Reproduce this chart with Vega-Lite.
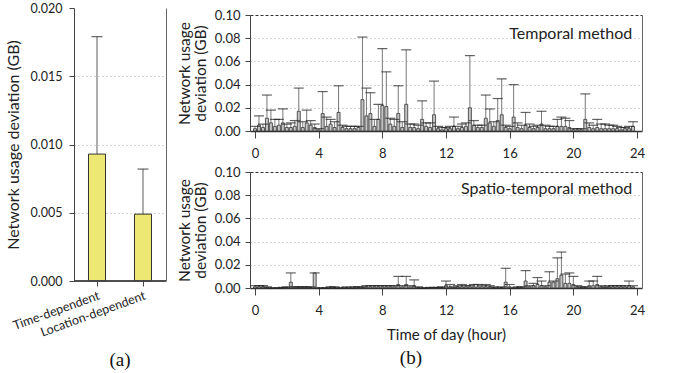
{
  "$schema": "https://vega.github.io/schema/vega-lite/v6.json",
  "background": "white",
  "padding": {"left": 5, "top": 2, "right": 4, "bottom": 2},
  "config": {
    "font": "Lato",
    "view": {"stroke": null},
    "axis": {
      "labelFont": "Lato", "titleFont": "Lato", "labelColor": "#222", "titleColor": "#222",
      "labelFontSize": 12.5, "titleFontSize": 15, "titleFontWeight": "normal",
      "domainColor": "#444", "tickColor": "#444", "tickSize": 5,
      "gridColor": "#aaa", "gridDash": [1, 3]
    },
    "title": {"font": "Liberation Serif", "fontSize": 19, "fontWeight": "normal", "color": "#111", "anchor": "middle"},
    "concat": {"spacing": 10}
  },
  "datasets": {
    "methods": [
      {"method": "Time-dependent", "value": 0.0093, "upper": 0.0179},
      {"method": "Location-dependent", "value": 0.0049, "upper": 0.0082}
    ],
    "temporal": [
      {"hour": 0, "value": 0.002, "upper": 0.004},
      {"hour": 0.25, "value": 0.005, "upper": 0.013},
      {"hour": 0.5, "value": 0.003, "upper": 0.006},
      {"hour": 0.75, "value": 0.011, "upper": 0.031},
      {"hour": 1, "value": 0.007, "upper": 0.018},
      {"hour": 1.25, "value": 0.004, "upper": 0.010},
      {"hour": 1.5, "value": 0.005, "upper": 0.010},
      {"hour": 1.75, "value": 0.007, "upper": 0.019},
      {"hour": 2, "value": 0.003, "upper": 0.006},
      {"hour": 2.25, "value": 0.003, "upper": 0.007},
      {"hour": 2.5, "value": 0.004, "upper": 0.009},
      {"hour": 2.75, "value": 0.017, "upper": 0.037},
      {"hour": 3, "value": 0.003, "upper": 0.008},
      {"hour": 3.25, "value": 0.007, "upper": 0.018},
      {"hour": 3.5, "value": 0.005, "upper": 0.009},
      {"hour": 3.75, "value": 0.003, "upper": 0.006},
      {"hour": 4, "value": 0.001, "upper": 0.002},
      {"hour": 4.25, "value": 0.015, "upper": 0.034},
      {"hour": 4.5, "value": 0.004, "upper": 0.012},
      {"hour": 4.75, "value": 0.006, "upper": 0.010},
      {"hour": 5, "value": 0.003, "upper": 0.008},
      {"hour": 5.25, "value": 0.016, "upper": 0.039},
      {"hour": 5.5, "value": 0.003, "upper": 0.005},
      {"hour": 5.75, "value": 0.002, "upper": 0.004},
      {"hour": 6, "value": 0.002, "upper": 0.004},
      {"hour": 6.25, "value": 0.002, "upper": 0.004},
      {"hour": 6.5, "value": 0.003, "upper": 0.004},
      {"hour": 6.75, "value": 0.027, "upper": 0.081},
      {"hour": 7, "value": 0.013, "upper": 0.037},
      {"hour": 7.25, "value": 0.015, "upper": 0.033},
      {"hour": 7.5, "value": 0.004, "upper": 0.010},
      {"hour": 7.75, "value": 0.010, "upper": 0.023},
      {"hour": 8, "value": 0.022, "upper": 0.071},
      {"hour": 8.25, "value": 0.021, "upper": 0.051},
      {"hour": 8.5, "value": 0.006, "upper": 0.011},
      {"hour": 8.75, "value": 0.004, "upper": 0.010},
      {"hour": 9, "value": 0.015, "upper": 0.039},
      {"hour": 9.25, "value": 0.003, "upper": 0.008},
      {"hour": 9.5, "value": 0.023, "upper": 0.070},
      {"hour": 9.75, "value": 0.003, "upper": 0.006},
      {"hour": 10, "value": 0.003, "upper": 0.006},
      {"hour": 10.25, "value": 0.002, "upper": 0.005},
      {"hour": 10.5, "value": 0.010, "upper": 0.026},
      {"hour": 10.75, "value": 0.004, "upper": 0.007},
      {"hour": 11, "value": 0.003, "upper": 0.007},
      {"hour": 11.25, "value": 0.014, "upper": 0.043},
      {"hour": 11.5, "value": 0.002, "upper": 0.004},
      {"hour": 11.75, "value": 0.001, "upper": 0.003},
      {"hour": 12, "value": 0.002, "upper": 0.003},
      {"hour": 12.25, "value": 0.002, "upper": 0.004},
      {"hour": 12.5, "value": 0.004, "upper": 0.012},
      {"hour": 12.75, "value": 0.002, "upper": 0.004},
      {"hour": 13, "value": 0.003, "upper": 0.006},
      {"hour": 13.25, "value": 0.004, "upper": 0.007},
      {"hour": 13.5, "value": 0.020, "upper": 0.065},
      {"hour": 13.75, "value": 0.005, "upper": 0.009},
      {"hour": 14, "value": 0.003, "upper": 0.005},
      {"hour": 14.25, "value": 0.003, "upper": 0.005},
      {"hour": 14.5, "value": 0.011, "upper": 0.031},
      {"hour": 14.75, "value": 0.007, "upper": 0.019},
      {"hour": 15, "value": 0.004, "upper": 0.008},
      {"hour": 15.25, "value": 0.009, "upper": 0.028},
      {"hour": 15.5, "value": 0.014, "upper": 0.045},
      {"hour": 15.75, "value": 0.003, "upper": 0.005},
      {"hour": 16, "value": 0.002, "upper": 0.004},
      {"hour": 16.25, "value": 0.012, "upper": 0.040},
      {"hour": 16.5, "value": 0.003, "upper": 0.007},
      {"hour": 16.75, "value": 0.002, "upper": 0.005},
      {"hour": 17, "value": 0.005, "upper": 0.016},
      {"hour": 17.25, "value": 0.003, "upper": 0.006},
      {"hour": 17.5, "value": 0.002, "upper": 0.004},
      {"hour": 17.75, "value": 0.003, "upper": 0.005},
      {"hour": 18, "value": 0.006, "upper": 0.017},
      {"hour": 18.25, "value": 0.002, "upper": 0.005},
      {"hour": 18.5, "value": 0.002, "upper": 0.004},
      {"hour": 18.75, "value": 0.002, "upper": 0.004},
      {"hour": 19, "value": 0.004, "upper": 0.010},
      {"hour": 19.25, "value": 0.004, "upper": 0.012},
      {"hour": 19.5, "value": 0.004, "upper": 0.011},
      {"hour": 19.75, "value": 0.003, "upper": 0.009},
      {"hour": 20, "value": 0.001, "upper": 0.002},
      {"hour": 20.25, "value": 0.001, "upper": 0.002},
      {"hour": 20.5, "value": 0.001, "upper": 0.002},
      {"hour": 20.75, "value": 0.010, "upper": 0.032},
      {"hour": 21, "value": 0.003, "upper": 0.007},
      {"hour": 21.25, "value": 0.002, "upper": 0.005},
      {"hour": 21.5, "value": 0.003, "upper": 0.010},
      {"hour": 21.75, "value": 0.002, "upper": 0.006},
      {"hour": 22, "value": 0.002, "upper": 0.006},
      {"hour": 22.25, "value": 0.002, "upper": 0.005},
      {"hour": 22.5, "value": 0.002, "upper": 0.005},
      {"hour": 22.75, "value": 0.002, "upper": 0.004},
      {"hour": 23, "value": 0.001, "upper": 0.003},
      {"hour": 23.25, "value": 0.002, "upper": 0.003},
      {"hour": 23.5, "value": 0.002, "upper": 0.004},
      {"hour": 23.75, "value": 0.004, "upper": 0.008}
    ],
    "spatio": [
      {"hour": 0, "value": 0.001, "upper": 0.002},
      {"hour": 0.25, "value": 0.001, "upper": 0.002},
      {"hour": 0.5, "value": 0.001, "upper": 0.002},
      {"hour": 0.75, "value": 0.0005, "upper": 0.001},
      {"hour": 1, "value": 0, "upper": 0},
      {"hour": 1.25, "value": 0, "upper": 0},
      {"hour": 1.5, "value": 0, "upper": 0},
      {"hour": 1.75, "value": 0.0003, "upper": 0.0005},
      {"hour": 2, "value": 0.0005, "upper": 0.001},
      {"hour": 2.25, "value": 0.005, "upper": 0.013},
      {"hour": 2.5, "value": 0.001, "upper": 0.001},
      {"hour": 2.75, "value": 0.001, "upper": 0.001},
      {"hour": 3, "value": 0.001, "upper": 0.001},
      {"hour": 3.25, "value": 0.001, "upper": 0.001},
      {"hour": 3.5, "value": 0.0005, "upper": 0.001},
      {"hour": 3.75, "value": 0.013, "upper": 0.013},
      {"hour": 4, "value": 0, "upper": 0},
      {"hour": 4.25, "value": 0, "upper": 0},
      {"hour": 4.5, "value": 0, "upper": 0},
      {"hour": 4.75, "value": 0.001, "upper": 0.001},
      {"hour": 5, "value": 0.0005, "upper": 0.001},
      {"hour": 5.25, "value": 0, "upper": 0},
      {"hour": 5.5, "value": 0, "upper": 0},
      {"hour": 5.75, "value": 0.0005, "upper": 0.001},
      {"hour": 6, "value": 0, "upper": 0},
      {"hour": 6.25, "value": 0.001, "upper": 0.001},
      {"hour": 6.5, "value": 0.0005, "upper": 0.001},
      {"hour": 6.75, "value": 0.0005, "upper": 0.001},
      {"hour": 7, "value": 0.001, "upper": 0.002},
      {"hour": 7.25, "value": 0.001, "upper": 0.002},
      {"hour": 7.5, "value": 0.001, "upper": 0.002},
      {"hour": 7.75, "value": 0.001, "upper": 0.002},
      {"hour": 8, "value": 0.001, "upper": 0.002},
      {"hour": 8.25, "value": 0.001, "upper": 0.002},
      {"hour": 8.5, "value": 0.001, "upper": 0.002},
      {"hour": 8.75, "value": 0.001, "upper": 0.002},
      {"hour": 9, "value": 0.003, "upper": 0.010},
      {"hour": 9.25, "value": 0.001, "upper": 0.002},
      {"hour": 9.5, "value": 0.003, "upper": 0.010},
      {"hour": 9.75, "value": 0.001, "upper": 0.002},
      {"hour": 10, "value": 0.002, "upper": 0.007},
      {"hour": 10.25, "value": 0.0005, "upper": 0.001},
      {"hour": 10.5, "value": 0, "upper": 0},
      {"hour": 10.75, "value": 0, "upper": 0},
      {"hour": 11, "value": 0.0003, "upper": 0.0005},
      {"hour": 11.25, "value": 0.0003, "upper": 0.0005},
      {"hour": 11.5, "value": 0.0003, "upper": 0.0005},
      {"hour": 11.75, "value": 0.0005, "upper": 0.001},
      {"hour": 12, "value": 0.002, "upper": 0.006},
      {"hour": 12.25, "value": 0.001, "upper": 0.003},
      {"hour": 12.5, "value": 0.0005, "upper": 0.001},
      {"hour": 12.75, "value": 0.001, "upper": 0.002},
      {"hour": 13, "value": 0.001, "upper": 0.003},
      {"hour": 13.25, "value": 0.001, "upper": 0.002},
      {"hour": 13.5, "value": 0.001, "upper": 0.002},
      {"hour": 13.75, "value": 0.001, "upper": 0.003},
      {"hour": 14, "value": 0.001, "upper": 0.003},
      {"hour": 14.25, "value": 0.001, "upper": 0.002},
      {"hour": 14.5, "value": 0.001, "upper": 0.003},
      {"hour": 14.75, "value": 0.001, "upper": 0.002},
      {"hour": 15, "value": 0.0005, "upper": 0.001},
      {"hour": 15.25, "value": 0, "upper": 0},
      {"hour": 15.5, "value": 0.0005, "upper": 0.001},
      {"hour": 15.75, "value": 0.005, "upper": 0.017},
      {"hour": 16, "value": 0.001, "upper": 0.003},
      {"hour": 16.25, "value": 0, "upper": 0},
      {"hour": 16.5, "value": 0.0005, "upper": 0.001},
      {"hour": 16.75, "value": 0.0005, "upper": 0.001},
      {"hour": 17, "value": 0.006, "upper": 0.015},
      {"hour": 17.25, "value": 0.001, "upper": 0.002},
      {"hour": 17.5, "value": 0.002, "upper": 0.004},
      {"hour": 17.75, "value": 0.003, "upper": 0.009},
      {"hour": 18, "value": 0.002, "upper": 0.006},
      {"hour": 18.25, "value": 0.001, "upper": 0.002},
      {"hour": 18.5, "value": 0.005, "upper": 0.014},
      {"hour": 18.75, "value": 0.005, "upper": 0.006},
      {"hour": 19, "value": 0.008, "upper": 0.026},
      {"hour": 19.25, "value": 0.011, "upper": 0.031},
      {"hour": 19.5, "value": 0.004, "upper": 0.012},
      {"hour": 19.75, "value": 0.004, "upper": 0.013},
      {"hour": 20, "value": 0.003, "upper": 0.010},
      {"hour": 20.25, "value": 0.001, "upper": 0.002},
      {"hour": 20.5, "value": 0.0005, "upper": 0.001},
      {"hour": 20.75, "value": 0.0005, "upper": 0.001},
      {"hour": 21, "value": 0.002, "upper": 0.006},
      {"hour": 21.25, "value": 0.002, "upper": 0.006},
      {"hour": 21.5, "value": 0.003, "upper": 0.010},
      {"hour": 21.75, "value": 0.001, "upper": 0.002},
      {"hour": 22, "value": 0.0005, "upper": 0.001},
      {"hour": 22.25, "value": 0.001, "upper": 0.002},
      {"hour": 22.5, "value": 0.001, "upper": 0.002},
      {"hour": 22.75, "value": 0.001, "upper": 0.002},
      {"hour": 23, "value": 0.001, "upper": 0.002},
      {"hour": 23.25, "value": 0.001, "upper": 0.002},
      {"hour": 23.5, "value": 0.002, "upper": 0.006},
      {"hour": 23.75, "value": 0.001, "upper": 0.002}
    ]
  },
  "hconcat": [
    {
      "title": {"text": "(a)", "orient": "bottom", "offset": 12},
      "width": 92,
      "height": 273,
      "data": {"name": "methods"},
      "resolve": {"axis": {"y": "independent"}},
      "layer": [
        {
          "mark": {"type": "rule", "color": "#777", "strokeWidth": 1.2},
          "encoding": {
            "x": {"field": "method", "type": "nominal", "sort": null,
                  "scale": {"paddingInner": 0.63, "paddingOuter": 0.315},
                  "axis": {"title": null, "labelAngle": -20, "labelAlign": "right", "labelBaseline": "top", "labelFontSize": 12.5, "labelPadding": 3, "domain": false}},
            "y": {"field": "value", "type": "quantitative",
                  "scale": {"domain": [0, 0.02], "nice": false},
                  "axis": {"title": "Network usage deviation (GB)", "titleFontSize": 16, "values": [0, 0.005, 0.01, 0.015, 0.02], "format": ".3f", "labelPadding": 7, "titlePadding": 9, "gridColor": {"condition": {"test": "datum.value > 0.0195 || datum.value < 0.0005", "value": "transparent"}, "value": "#aaa"}}},
            "y2": {"field": "upper"}
          }
        },
        {
          "mark": {"type": "bar", "fill": "#ede874", "stroke": "#333", "strokeWidth": 1},
          "encoding": {
            "x": {"field": "method", "type": "nominal", "sort": null},
            "y": {"field": "value", "type": "quantitative", "axis": null}
          }
        },
        {
          "mark": {"type": "tick", "orient": "horizontal", "color": "#222", "size": 11, "thickness": 1.2},
          "encoding": {
            "x": {"field": "method", "type": "nominal", "sort": null},
            "y": {"field": "upper", "type": "quantitative", "axis": null}
          }
        },
        {
          "mark": {"type": "rule", "opacity": 0},
          "encoding": {
            "y": {"field": "value", "type": "quantitative",
                  "axis": {"orient": "right", "labels": false, "ticks": false, "grid": false, "title": null, "domainColor": "#666"}}
          }
        },
        {
          "mark": {"type": "rule", "color": "#444", "strokeWidth": 1.5},
          "encoding": {"y": {"datum": 0, "type": "quantitative", "axis": null}}
        }
      ]
    },
    {
      "title": {"text": "(b)", "orient": "bottom", "offset": 7},
      "spacing": 0,
      "columns": 1,
      "align": "none",
      "concat": [
        {
          "width": 392,
          "height": 1,
          "data": {"values": [{}]},
          "mark": {"type": "rect", "opacity": 0, "width": 1, "height": 1},
          "encoding": {}
        },
        {
          "width": 392,
          "height": 116,
          "data": {"name": "temporal"},
          "resolve": {"axis": {"y": "independent"}},
          "layer": [
            {
              "mark": {"type": "rule", "color": "#777", "strokeWidth": 1},
              "encoding": {
                "x": {"field": "hour", "type": "quantitative", "scale": {"domain": [0, 24], "nice": false},
                      "axis": {"title": null, "values": [0, 4, 8, 12, 16, 20, 24], "format": "d", "grid": false, "labelFontSize": 13, "tickSize": 7, "labelPadding": 9, "domainColor": "#333", "domainWidth": 1.5}},
                "y": {"field": "value", "type": "quantitative", "scale": {"domain": [0, 0.1], "nice": false},
                      "axis": {"title": ["Network usage", "deviation (GB)"], "titleFontSize": 15.5, "values": [0, 0.02, 0.04, 0.06, 0.08, 0.1], "format": ".2f", "labelFontSize": 13, "labelPadding": 5, "titlePadding": 6, "titleLineHeight": 16,
                               "gridColor": {"condition": {"test": "datum.value > 0.095", "value": "#333"}, "value": "#aaa"},
                               "gridDash": {"condition": {"test": "datum.value > 0.095", "value": [3, 2]}, "value": [1, 3]}}},
                "y2": {"field": "upper"}
              }
            },
            {
              "mark": {"type": "bar", "fill": "#c4c4c4", "stroke": "#333", "strokeWidth": 0.8, "width": 3},
              "encoding": {
                "x": {"field": "hour", "type": "quantitative"},
                "y": {"field": "value", "type": "quantitative", "axis": null}
              }
            },
            {
              "mark": {"type": "tick", "orient": "horizontal", "color": "#222", "size": 10, "thickness": 1.2},
              "encoding": {
                "x": {"field": "hour", "type": "quantitative"},
                "y": {"field": "upper", "type": "quantitative", "axis": null}
              }
            },
            {
              "mark": {"type": "rule", "opacity": 0},
              "encoding": {
                "y": {"field": "value", "type": "quantitative",
                      "axis": {"orient": "right", "labels": false, "ticks": false, "grid": false, "title": null, "domainColor": "#666"}}
              }
            },
            {
              "data": {"values": [{"label": "Temporal method"}]},
              "mark": {"type": "text", "align": "right", "baseline": "middle", "fontSize": 16, "font": "Lato", "color": "#222"},
              "encoding": {
                "text": {"field": "label"},
                "x": {"datum": 23.7, "type": "quantitative"},
                "y": {"datum": 0.084, "type": "quantitative", "axis": null}
              }
            }
          ]
        },
        {
          "width": 392,
          "height": 5,
          "data": {"values": [{}]},
          "mark": {"type": "rect", "opacity": 0, "width": 1, "height": 1},
          "encoding": {}
        },
        {
          "width": 392,
          "height": 116,
          "data": {"name": "spatio"},
          "resolve": {"axis": {"y": "independent"}},
          "layer": [
            {
              "mark": {"type": "rule", "color": "#777", "strokeWidth": 1},
              "encoding": {
                "x": {"field": "hour", "type": "quantitative", "scale": {"domain": [0, 24], "nice": false},
                      "axis": {"title": "Time of day (hour)", "titleFontSize": 15, "values": [0, 4, 8, 12, 16, 20, 24], "format": "d", "grid": false, "labelFontSize": 13, "tickSize": 7, "labelPadding": 9, "titlePadding": 10, "domainColor": "#333", "domainWidth": 1.5}},
                "y": {"field": "value", "type": "quantitative", "scale": {"domain": [0, 0.1], "nice": false},
                      "axis": {"title": ["Network usage", "deviation (GB)"], "titleFontSize": 15.5, "values": [0, 0.02, 0.04, 0.06, 0.08, 0.1], "format": ".2f", "labelFontSize": 13, "labelPadding": 5, "titlePadding": 6, "titleLineHeight": 16,
                               "gridColor": {"condition": {"test": "datum.value > 0.095", "value": "#333"}, "value": "#aaa"},
                               "gridDash": {"condition": {"test": "datum.value > 0.095", "value": [3, 2]}, "value": [1, 3]}}},
                "y2": {"field": "upper"}
              }
            },
            {
              "mark": {"type": "bar", "fill": "#c4c4c4", "stroke": "#333", "strokeWidth": 0.8, "width": 3},
              "encoding": {
                "x": {"field": "hour", "type": "quantitative"},
                "y": {"field": "value", "type": "quantitative", "axis": null}
              }
            },
            {
              "mark": {"type": "tick", "orient": "horizontal", "color": "#222", "size": 10, "thickness": 1.2},
              "encoding": {
                "x": {"field": "hour", "type": "quantitative"},
                "y": {"field": "upper", "type": "quantitative", "axis": null}
              }
            },
            {
              "mark": {"type": "rule", "opacity": 0},
              "encoding": {
                "y": {"field": "value", "type": "quantitative",
                      "axis": {"orient": "right", "labels": false, "ticks": false, "grid": false, "title": null, "domainColor": "#666"}}
              }
            },
            {
              "data": {"values": [{"label": "Spatio-temporal method"}]},
              "mark": {"type": "text", "align": "right", "baseline": "middle", "fontSize": 16, "font": "Lato", "color": "#222"},
              "encoding": {
                "text": {"field": "label"},
                "x": {"datum": 23.7, "type": "quantitative"},
                "y": {"datum": 0.085, "type": "quantitative", "axis": null}
              }
            }
          ]
        }
      ]
    }
  ]
}
